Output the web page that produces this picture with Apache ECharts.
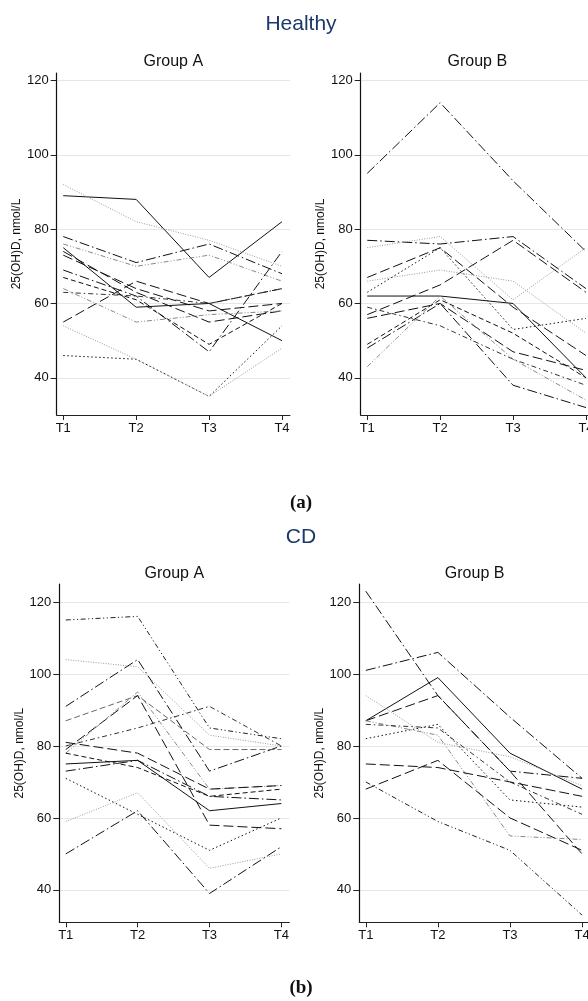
<!DOCTYPE html>
<html>
<head>
<meta charset="utf-8">
<script src="https://cdn.jsdelivr.net/npm/echarts@6/dist/echarts.min.js"></script>
<style>
  html, body { margin: 0; padding: 0; background: #fff; }
  #main { width: 588px; height: 1001px; }
</style>
</head>
<body>
<div id="main"></div>
<script>
// time points on the x axis
var timePoints = [1, 2, 3, 4];
var timeLabels = ['T1', 'T2', 'T3', 'T4'];
var yTicks = [40, 60, 80, 100, 120];

// 25(OH)D per subject, values at T1..T4
var healthyA = [
  [89, 88, 67, 82],
  [92, 82, 77, 70],
  [78, 71, 76, 68],
  [76, 70, 73, 66],
  [55, 66, 60, 64],
  [75, 59, 60, 50],
  [74, 63, 55, 58],
  [69, 62, 47, 74],
  [67, 61, 49, 60],
  [64, 55, 57, 58],
  [63, 62, 60, 64],
  [73, 64, 58, 60],
  [46, 45, 35, 54],
  [54, 45, 35, 48]
];
var healthyB = [
  [95, 114, 93, 74],
  [77, 76, 78, 64],
  [57, 65, 77, 63],
  [75, 78, 61, 75],
  [66, 69, 66, 52],
  [67, 75, 59, 46],
  [63, 75, 53, 56],
  [62, 62, 60, 40],
  [56, 60, 47, 42],
  [59, 54, 45, 38],
  [49, 61, 52, 40],
  [48, 60, 38, 32],
  [43, 62, 45, 34]
];
var cdA = [
  [115, 116, 85, 82],
  [104, 102, 83, 80],
  [91, 104, 73, 80],
  [87, 94, 79, 79],
  [79, 94, 58, 57],
  [80, 85, 91, 80],
  [78, 95, 68, 69],
  [81, 78, 68, 69],
  [75, 76, 62, 64],
  [73, 76, 66, 65],
  [78, 74, 66, 68],
  [71, 61, 51, 60],
  [59, 67, 46, 50],
  [50, 62, 39, 52]
];
var cdB = [
  [123, 94, 73, 71],
  [101, 106, 88, 71],
  [87, 99, 78, 68],
  [87, 94, 73, 50],
  [94, 81, 77, 69],
  [87, 83, 55, 54],
  [82, 86, 65, 63],
  [86, 85, 70, 61],
  [75, 74, 70, 66],
  [68, 76, 60, 51],
  [70, 59, 51, 33]
];

// line pattern of each subject (same order as above)
var healthyAStyle = ['solid','gdot','ldashdot','gdashdot','ldash','solid','ldash','ldashdot','dash','gdashdot','dashdot','ldash','dot','gdot'];
var healthyBStyle = ['ldashdot','ldashdot','ldash','gdot','gdot','ldash','dot','solid','ldash','dashdot','dash','ldashdot','gdashdot'];
var cdAStyle = ['dashdotdot','gdot','ldashdot','gdash','ldash','dashdot','gdashdot','ldash','solid','ldashdot','dash','dot','gdot','ldashdot'];
var cdBStyle = ['ldashdot','ldashdot','solid','ldash','gdot','gdashdot','dot','dashdot','ldash','ldash','dashdotdot'];

var lineTypes = {
  solid:      { color: '#111', type: 'solid' },
  dot:        { color: '#111', type: [1.5, 2.5] },
  gdot:       { color: '#9a9a9a', type: [1, 1.5] },
  ldash:      { color: '#111', type: [10, 4] },
  dash:       { color: '#111', type: [5, 3] },
  gdash:      { color: '#666', type: [6, 3] },
  ldashdot:   { color: '#111', type: [10, 3, 1.5, 3] },
  dashdot:    { color: '#333', type: [5, 3, 1.5, 3] },
  dashdotdot: { color: '#222', type: [5, 2.5, 1.2, 2.5, 1.2, 2.5] },
  gdashdot:   { color: '#888', type: [5, 2, 1, 2, 1, 2] }
};

var FONT = 'Liberation Sans, Arial, sans-serif';

// panel boxes
var panels = [
  { left: 56.7, top: 73, width: 233.3, height: 342, ymin: 30, ymax: 122, data: healthyA, style: healthyAStyle },
  { left: 360.7, top: 73, width: 233.3, height: 342, ymin: 30, ymax: 122, data: healthyB, style: healthyBStyle },
  { left: 59.3, top: 584, width: 230, height: 338.3, ymin: 31, ymax: 125, data: cdA, style: cdAStyle },
  { left: 359.3, top: 584, width: 230.7, height: 338.3, ymin: 31, ymax: 125, data: cdB, style: cdBStyle }
];

var grids = [], xAxes = [], yAxes = [], series = [];
panels.forEach(function (p, i) {
  grids.push({ left: p.left, top: p.top, width: p.width, height: p.height, containLabel: false, outerBoundsMode: 'none' });
  xAxes.push({
    type: 'value', gridIndex: i, min: 0.91, max: 4.11,
    axisLine: { show: true, onZero: false, lineStyle: { color: '#222', width: 1 } },
    axisTick: { show: true, length: 5, customValues: timePoints, lineStyle: { color: '#222' } },
    axisLabel: {
      customValues: timePoints, margin: 7, color: '#111', fontSize: 13, fontFamily: FONT,
      hideOverlap: false,
      formatter: function (v) { return timeLabels[timePoints.indexOf(v)] || ''; }
    },
    splitLine: { show: false }
  });
  yAxes.push({
    type: 'value', gridIndex: i, min: p.ymin, max: p.ymax,
    name: '25(OH)D, nmol/L', nameLocation: 'middle', nameGap: 34,
    nameTextStyle: { fontSize: 12, color: '#111', fontFamily: FONT },
    axisLine: { show: true, lineStyle: { color: '#111', width: 1.2 } },
    axisTick: { show: true, length: 6, customValues: yTicks, lineStyle: { color: '#222' } },
    axisLabel: { customValues: yTicks, margin: 8, color: '#111', fontSize: 13, fontFamily: FONT },
    splitLine: { show: true, lineStyle: { color: '#e6e6e6', width: 1 } }
  });
  p.data.forEach(function (vals, k) {
    var st = lineTypes[p.style[k]];
    series.push({
      type: 'line', xAxisIndex: i, yAxisIndex: i, symbol: 'none', silent: true,
      data: vals.map(function (v, j) { return [timePoints[j], v]; }),
      lineStyle: { color: st.color, type: st.type, width: 1 },
      animation: false
    });
  });
});

function txt(t, x, y, size, color, font, weight) {
  return {
    type: 'text', x: x, y: y, silent: true,
    style: { text: t, fill: color, font: (weight || 'normal') + ' ' + size + 'px ' + font, align: 'center', verticalAlign: 'middle' }
  };
}

var chart = echarts.init(document.getElementById('main'));
chart.setOption({
  animation: false,
  grid: grids,
  xAxis: xAxes,
  yAxis: yAxes,
  series: series,
  graphic: [
    txt('Healthy', 301, 24, 21, '#1b3a6b', FONT),
    txt('Group A', 173.3, 62, 16, '#111', FONT),
    txt('Group B', 477.3, 62, 16, '#111', FONT),
    txt('(a)', 301, 503, 19, '#111', 'Liberation Serif, serif', 'bold'),
    txt('CD', 301, 537, 21, '#1b3a6b', FONT),
    txt('Group A', 174.3, 574, 16, '#111', FONT),
    txt('Group B', 474.6, 574, 16, '#111', FONT),
    txt('(b)', 301, 988, 19, '#111', 'Liberation Serif, serif', 'bold')
  ]
});
</script>
</body>
</html>
